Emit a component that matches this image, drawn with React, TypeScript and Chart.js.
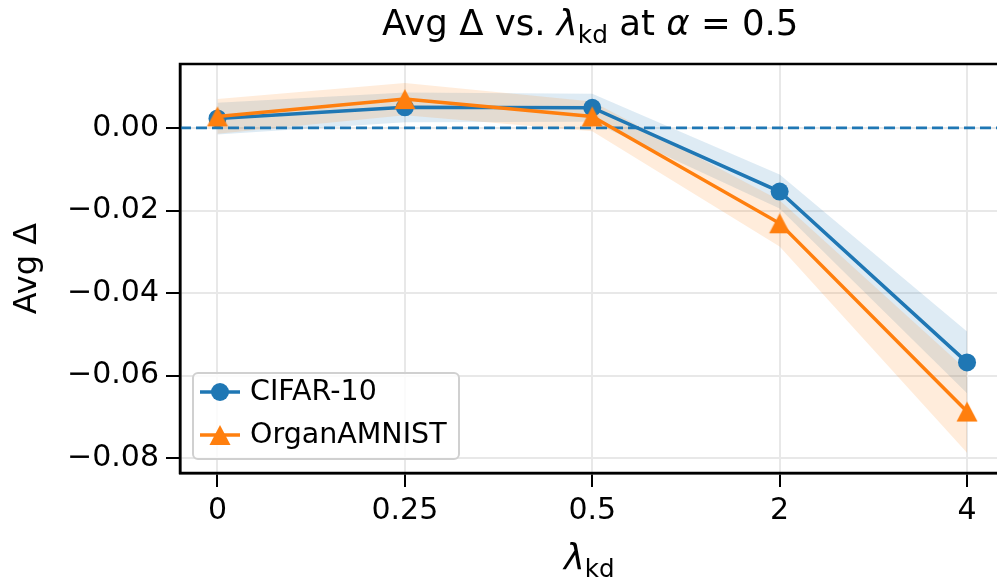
import React, { useEffect, useRef } from "react";
import { Chart, registerables } from "chart.js";

Chart.register(...registerables);

const CATEGORIES = ["0", "0.25", "0.5", "2", "4"];
const SERIES_LABELS = ["CIFAR-10", "OrganAMNIST"];
const CIFAR_MEAN = [0.0023, 0.005, 0.0049, -0.0154, -0.0568];
const CIFAR_UPPER = [0.0061, 0.0086, 0.0083, -0.0113, -0.0493];
const CIFAR_LOWER = [-0.0016, 0.0014, 0.0015, -0.0195, -0.0643];
const ORGAN_MEAN = [0.0028, 0.007, 0.0028, -0.0231, -0.0687];
const ORGAN_UPPER = [0.007, 0.0109, 0.0064, -0.0175, -0.0587];
const ORGAN_LOWER = [-0.0014, 0.0031, -0.0008, -0.0287, -0.0787];
const ZERO_LINE = 0;
const Y_MIN = -0.0836;
const Y_MAX = 0.0155;
const Y_STEP = 0.02;
const X_MIN = -0.2;
const X_MAX = 4.2;

const BLUE = "#1f77b4";
const ORANGE = "#ff7f0e";
const FONT = "'DejaVu Sans', 'Noto Sans', sans-serif";

const toPts = (arr: number[]) => arr.map((y, i) => ({ x: i, y }));

function makeTriangle(color: string): HTMLCanvasElement {
  const c = document.createElement("canvas");
  c.width = 24;
  c.height = 22;
  const g = c.getContext("2d")!;
  g.fillStyle = color;
  g.beginPath();
  g.moveTo(12, 1);
  g.lineTo(1.5, 21);
  g.lineTo(22.5, 21);
  g.closePath();
  g.fill();
  return c;
}

type Seg = { t: string; it?: boolean; sub?: boolean };

function drawMixed(ctx: CanvasRenderingContext2D, segs: Seg[], cx: number, baseline: number, size: number) {
  const fontFor = (s: Seg) => {
    const sz = s.sub ? size * 0.7 : size;
    return `${s.it ? "italic " : ""}${sz}px ${FONT}`;
  };
  let total = 0;
  const widths = segs.map((s) => {
    ctx.font = fontFor(s);
    const w = ctx.measureText(s.t).width;
    total += w;
    return w;
  });
  let x = cx - total / 2;
  ctx.fillStyle = "#000";
  ctx.textBaseline = "alphabetic";
  ctx.textAlign = "left";
  segs.forEach((s, i) => {
    ctx.font = fontFor(s);
    ctx.fillText(s.t, x, baseline + (s.sub ? size * 0.22 : 0));
    x += widths[i];
  });
}

export default function App() {
  const ref = useRef<HTMLCanvasElement | null>(null);

  useEffect(() => {
    if (!ref.current) return;
    const tri = makeTriangle(ORANGE);

    const decor = {
      id: "decor",
      afterDatasetsDraw(chart: any) {
        const { ctx, chartArea: a } = chart;
        ctx.save();
        ctx.strokeStyle = "#000";
        ctx.lineWidth = 2.5;
        ctx.strokeRect(a.left, a.top, a.right - a.left, a.bottom - a.top);
        ctx.restore();
      },
      afterDraw(chart: any) {
        const { ctx, chartArea: a } = chart;
        ctx.save();
        const cx = (a.left + a.right) / 2;
        // title
        drawMixed(
          ctx,
          [
            { t: "Avg Δ vs. " },
            { t: "λ", it: true },
            { t: "kd", sub: true },
            { t: " at " },
            { t: "α", it: true },
            { t: " = 0.5" },
          ],
          cx - 2,
          35,
          35.5
        );
        // x label
        drawMixed(ctx, [{ t: "λ", it: true }, { t: "kd", sub: true }], cx - 3, 569, 35);
        // y label
        ctx.save();
        ctx.translate(36, (a.top + a.bottom) / 2);
        ctx.rotate(-Math.PI / 2);
        ctx.font = `32px ${FONT}`;
        ctx.fillStyle = "#000";
        ctx.textAlign = "center";
        ctx.textBaseline = "alphabetic";
        ctx.fillText("Avg Δ", 0, 0);
        ctx.restore();

        // legend
        const bx = 193, by = 373, bw = 266, bh = 86;
        ctx.beginPath();
        (ctx as any).roundRect(bx, by, bw, bh, 5);
        ctx.fillStyle = "rgba(255,255,255,0.8)";
        ctx.fill();
        ctx.strokeStyle = "#d0d0d0";
        ctx.lineWidth = 2;
        ctx.stroke();
        const rows = [
          { label: SERIES_LABELS[0], color: BLUE, y: 392, marker: "circle" },
          { label: SERIES_LABELS[1], color: ORANGE, y: 435, marker: "tri" },
        ];
        rows.forEach((r) => {
          ctx.strokeStyle = r.color;
          ctx.lineWidth = 3.5;
          ctx.beginPath();
          ctx.moveTo(200, r.y);
          ctx.lineTo(240, r.y);
          ctx.stroke();
          if (r.marker === "circle") {
            ctx.fillStyle = r.color;
            ctx.beginPath();
            ctx.arc(220, r.y, 9, 0, Math.PI * 2);
            ctx.fill();
          } else {
            ctx.drawImage(tri, 220 - tri.width / 2, r.y - tri.height / 2);
          }
          ctx.fillStyle = "#000";
          ctx.font = `28.5px ${FONT}`;
          ctx.textAlign = "left";
          ctx.textBaseline = "middle";
          ctx.fillText(r.label, 250, r.y + 1);
        });
        ctx.restore();
      },
    };

    const band = (upper: number[], lower: number[], color: string, order: number) => [
      {
        label: "upper",
        data: toPts(upper),
        borderWidth: 0,
        pointRadius: 0,
        borderColor: "rgba(0,0,0,0)",
        backgroundColor: color,
        fill: "+1",
        order,
      },
      {
        label: "lower",
        data: toPts(lower),
        borderWidth: 0,
        pointRadius: 0,
        borderColor: "rgba(0,0,0,0)",
        fill: false,
        order,
      },
    ];

    const chart = new Chart(ref.current, {
      type: "line",
      data: {
        datasets: [
          {
            label: SERIES_LABELS[1],
            data: toPts(ORGAN_MEAN),
            borderColor: ORANGE,
            borderWidth: 3.5,
            pointStyle: tri as any,
            pointRadius: 11,
            pointBackgroundColor: ORANGE,
            fill: false,
            order: 0,
          },
          {
            label: SERIES_LABELS[0],
            data: toPts(CIFAR_MEAN),
            borderColor: BLUE,
            borderWidth: 3.5,
            pointStyle: "circle",
            pointRadius: 9,
            pointBorderWidth: 0,
            pointBackgroundColor: BLUE,
            fill: false,
            order: 1,
          },
          {
            label: "zero",
            data: [
              { x: X_MIN, y: ZERO_LINE },
              { x: X_MAX, y: ZERO_LINE },
            ],
            borderColor: BLUE,
            borderWidth: 2.8,
            borderDash: [11, 5],
            pointRadius: 0,
            fill: false,
            order: 2,
          },
          ...band(ORGAN_UPPER, ORGAN_LOWER, "rgba(255,127,14,0.15)", 3),
          ...band(CIFAR_UPPER, CIFAR_LOWER, "rgba(31,119,180,0.15)", 4),
        ] as any,
      },
      options: {
        animation: false,
        responsive: false,
        maintainAspectRatio: false,
        layout: { padding: { top: 64, left: 0, right: 0, bottom: 0 } },
        plugins: {
          legend: { display: false },
          tooltip: { enabled: false },
          title: { display: false },
        },
        elements: { line: { tension: 0 } },
        scales: {
          x: {
            type: "linear",
            min: X_MIN,
            max: X_MAX,
            afterFit: (s: any) => {
              s.height = 104;
              s.paddingLeft = 0;
              s.paddingRight = 0;
            },
            afterBuildTicks: (s: any) => {
              s.ticks = CATEGORIES.map((_, i) => ({ value: i }));
            },
            ticks: {
              callback: (v: any) => CATEGORIES[Math.round(Number(v))] ?? "",
              font: { family: FONT, size: 30 },
              color: "#000",
              padding: 6,
              maxRotation: 0,
              autoSkip: false,
            },
            grid: {
              color: "#e8e8e8",
              lineWidth: 2,
              tickColor: "#000",
              tickWidth: 2,
              tickLength: 14,
            },
            border: { display: true, color: "#000", width: 2.5 },
          },
          y: {
            type: "linear",
            min: Y_MIN,
            max: Y_MAX,
            afterFit: (s: any) => {
              s.width = 180;
              s.paddingTop = 0;
              s.paddingBottom = 0;
            },
            ticks: {
              stepSize: Y_STEP,
              includeBounds: false,
              callback: (v: any) => {
                const n = Number(v);
                if (Math.abs(n) < 1e-9) return "0.00";
                const s = Math.abs(n).toFixed(2);
                return n < 0 ? "\u2212" + s : s;
              },
              font: { family: FONT, size: 30 },
              color: "#000",
              padding: 7,
            },
            grid: {
              color: "#e8e8e8",
              lineWidth: 2,
              tickColor: "#000",
              tickWidth: 2,
              tickLength: 14,
            },
            border: { display: true, color: "#000", width: 2.5 },
          },
        },
      } as any,
      plugins: [decor],
    });
    return () => chart.destroy();
  }, []);

  return (
    <div
      style={{
        position: "fixed",
        left: 0,
        top: 0,
        width: 997,
        height: 577,
        overflow: "hidden",
        background: "#fff",
      }}
    >
      <canvas ref={ref} width={1019} height={577} style={{ display: "block", width: 1019, height: 577 }} />
    </div>
  );
}
